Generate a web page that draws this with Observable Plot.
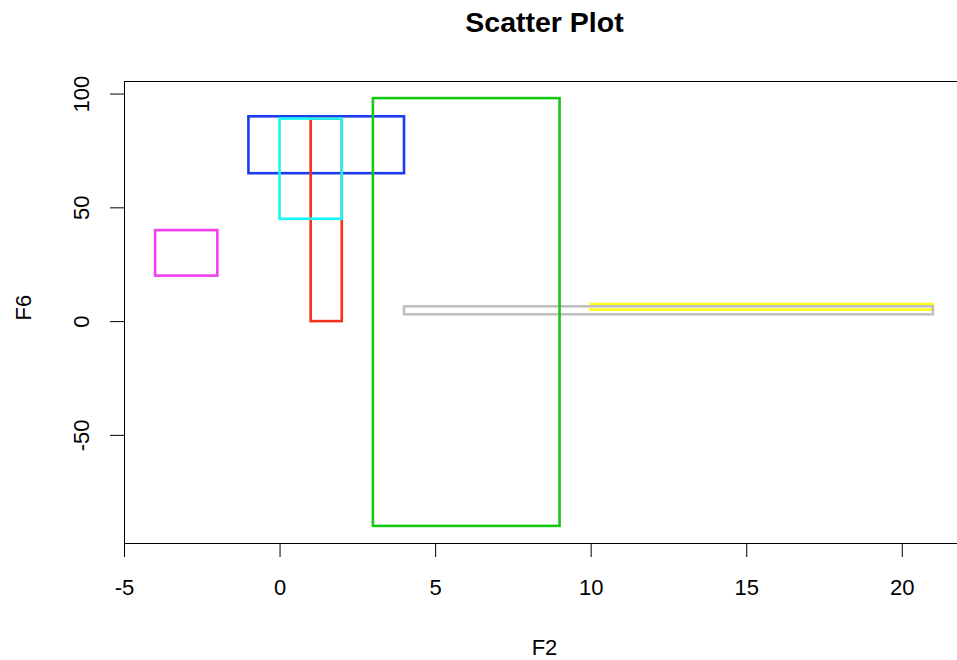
<!DOCTYPE html>
<html>
<head>
<meta charset="utf-8">
<script src="https://cdn.jsdelivr.net/npm/d3@7"></script>
<script src="https://cdn.jsdelivr.net/npm/@observablehq/plot@0.6"></script>
<style>
  body { margin: 0; background: #fff; }
  #chart svg { font-family: "Liberation Sans", Arial, Helvetica, sans-serif; }
</style>
</head>
<body>
<div id="chart"></div>
<script>
// Rectangles in F2 (x) / F6 (y) space, drawn in this order
const x1 = [-4, -1, 1, 0, 10, 4, 3];
const x2 = [-2, 4, 2, 2, 21, 21, 9];
const y1 = [20, 65, 0, 45, 5, 3, -90];
const y2 = [40, 90, 89, 89, 7.5, 6.5, 98];
const colors = ["#f23ff2", "#1a3bef", "#f5311a", "#18f6f6", "#ffff1a", "#c0c0c0", "#14c814"];

const xTicks = [-5, 0, 5, 10, 15, 20];
const yTicks = [-50, 0, 50, 100];

const boxes = x1.map((_, i) => ({x1: x1[i], x2: x2[i], y1: y1[i], y2: y2[i], color: colors[i]}));

const font = 22;

const chart = Plot.plot({
  width: 957,
  height: 660,
  marginLeft: 124,
  marginRight: -7,
  marginTop: 81,
  marginBottom: 117,
  x: {domain: [-5, 22]},
  y: {domain: [-97.52, 105.52]},
  color: {type: "identity"},
  style: {background: "white", color: "black", fontSize: font + "px"},
  marks: [
    Plot.rect(boxes, {x1: "x1", x2: "x2", y1: "y1", y2: "y2", stroke: "color", fill: "none", strokeWidth: 2.6}),
    Plot.frame({stroke: "black", strokeWidth: 1}),
    Plot.axisX({ticks: xTicks, tickSize: 14, tickPadding: 22, tickFormat: d => String(d), label: null, fontSize: font}),
    Plot.axisY({ticks: yTicks, tickSize: 14, tickFormat: () => "", label: null}),
    Plot.text(yTicks, {y: d => d, text: d => String(d), frameAnchor: "left", dx: -43, rotate: -90,
      textAnchor: "middle", lineAnchor: "middle", fontSize: font}),
    Plot.text(["F2"], {frameAnchor: "bottom", dy: 104, lineAnchor: "middle", fontSize: font}),
    Plot.text(["F6"], {frameAnchor: "left", dx: -101, dy: 8, rotate: -90, lineAnchor: "middle", fontSize: font}),
    Plot.text(["Scatter Plot"], {frameAnchor: "top", dy: -59, lineAnchor: "middle", fontSize: 28.5, fontWeight: "bold"})
  ]
});

document.getElementById("chart").appendChild(chart);
</script>
</body>
</html>
